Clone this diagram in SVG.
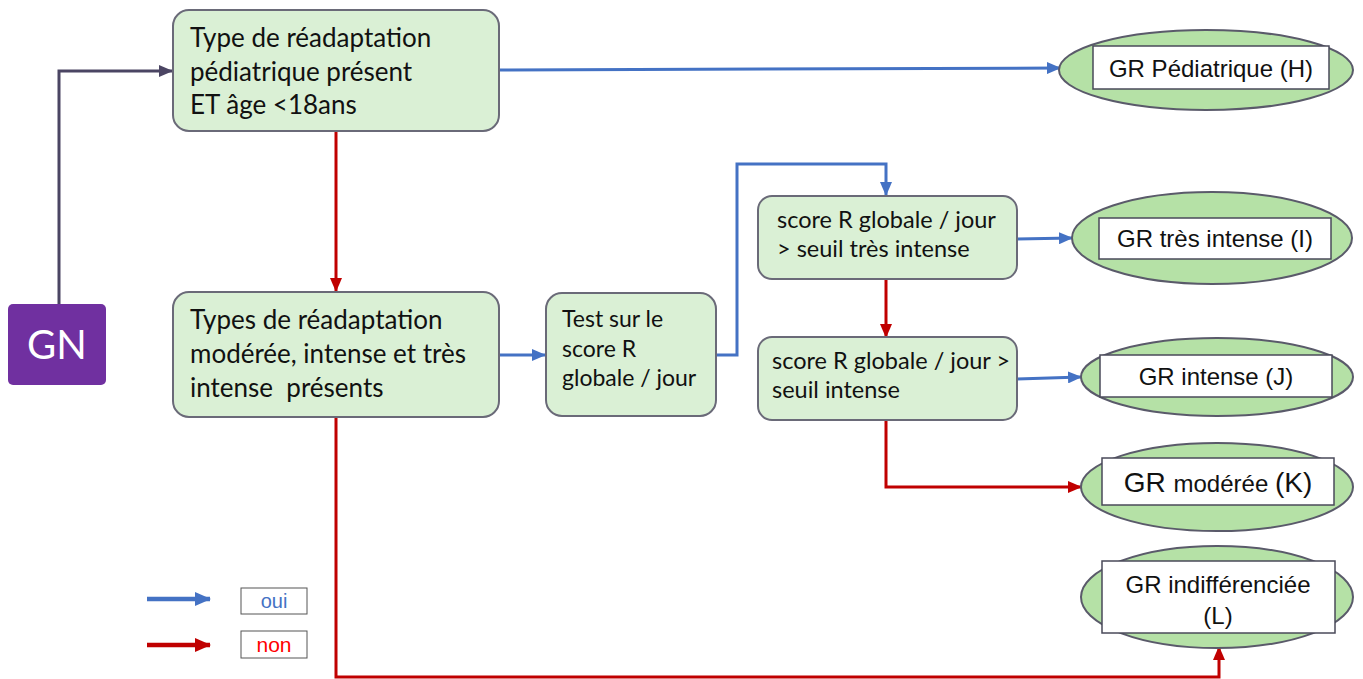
<svg xmlns="http://www.w3.org/2000/svg" width="1363" height="679" viewBox="0 0 1363 679">
<style>
.box{fill:#DAF0D5;stroke:#6A6A78;stroke-width:2}
.ell{fill:#B5E1A6;stroke:#5A5A6A;stroke-width:2}
.lab{fill:#fff;stroke:#4A4A5A;stroke-width:1.5}
.t{font-family:Lato,"Liberation Sans",sans-serif;fill:#111;white-space:pre}
.a{font-family:"Liberation Sans",Arial,sans-serif;fill:#111;text-anchor:middle}
.blue{fill:none;stroke:#4472C4;stroke-width:3}
.red{fill:none;stroke:#C00000;stroke-width:3}
.dark{fill:none;stroke:#4B4563;stroke-width:3}
.leg{stroke-width:4.5}
</style>
<defs>
<marker id="ab" markerUnits="userSpaceOnUse" markerWidth="14" markerHeight="12" refX="13" refY="6" orient="auto"><path d="M0,0 L14,6 L0,12 z" fill="#4472C4"/></marker>
<marker id="ar" markerUnits="userSpaceOnUse" markerWidth="14" markerHeight="12" refX="13" refY="6" orient="auto"><path d="M0,0 L14,6 L0,12 z" fill="#C00000"/></marker>
<marker id="ad" markerUnits="userSpaceOnUse" markerWidth="14" markerHeight="12" refX="13" refY="6" orient="auto"><path d="M0,0 L14,6 L0,12 z" fill="#4B4563"/></marker>
<marker id="lb" markerUnits="userSpaceOnUse" markerWidth="16" markerHeight="14" refX="15" refY="7" orient="auto"><path d="M0,0 L16,7 L0,14 z" fill="#4472C4"/></marker>
<marker id="lr" markerUnits="userSpaceOnUse" markerWidth="16" markerHeight="14" refX="15" refY="7" orient="auto"><path d="M0,0 L16,7 L0,14 z" fill="#C00000"/></marker>
</defs>
<g id="connectors">
<path class="dark" d="M59,304 V71 H172" marker-end="url(#ad)"/>
<path class="blue" d="M499,70 L1060,68" marker-end="url(#ab)"/>
<path class="red" d="M336,131 V291" marker-end="url(#ar)"/>
<path class="blue" d="M499,355 H545" marker-end="url(#ab)"/>
<path class="blue" d="M716,355 H737 V164 H886 V195" marker-end="url(#ab)"/>
<path class="red" d="M886,279 V337" marker-end="url(#ar)"/>
<path class="blue" d="M1017,239 L1072,238" marker-end="url(#ab)"/>
<path class="blue" d="M1017,379 L1081,377" marker-end="url(#ab)"/>
<path class="red" d="M886,420 V487 H1081" marker-end="url(#ar)"/>
<path class="red" d="M336,417 V677 H1219 V647" marker-end="url(#ar)"/>
</g>
<g id="GN">
<rect x="8" y="304" width="98" height="81" rx="5" fill="#7030A0"/>
<text x="57" y="359" font-family="Lato,'Liberation Sans',sans-serif" font-size="40" fill="#fff" text-anchor="middle">GN</text>
</g>
<g id="n1">
<rect class="box" x="173" y="10" width="326" height="121" rx="16"/>
<text class="t" font-size="26"><tspan x="190" y="47">Type de réadaptation</tspan><tspan x="190" y="81">pédiatrique présent</tspan><tspan x="190" y="114">ET âge &lt;18ans</tspan></text>
</g>
<g id="n2">
<rect class="box" x="173" y="292" width="326" height="125" rx="16"/>
<text class="t" font-size="26"><tspan x="190" y="329">Types de réadaptation</tspan><tspan x="190" y="363">modérée, intense et très</tspan><tspan x="190" y="397">intense  présents</tspan></text>
</g>
<g id="n3">
<rect class="box" x="546" y="293" width="170" height="123" rx="16"/>
<text class="t" font-size="23"><tspan x="562" y="327">Test sur le</tspan><tspan x="562" y="357">score R</tspan><tspan x="562" y="386">globale / jour</tspan></text>
</g>
<g id="n4">
<rect class="box" x="758" y="196" width="259" height="83" rx="14"/>
<text class="t" font-size="23.5"><tspan x="777" y="228">score R globale / jour</tspan><tspan x="777" y="257">&gt; seuil très intense</tspan></text>
</g>
<g id="n5">
<rect class="box" x="758" y="337" width="259" height="83" rx="14"/>
<text class="t" font-size="23.5"><tspan x="772" y="369">score R globale / jour &gt;</tspan><tspan x="772" y="398">seuil intense</tspan></text>
</g>
<g id="H">
<ellipse class="ell" cx="1206" cy="70" rx="147" ry="40"/>
<rect class="lab" x="1093" y="46" width="236" height="43"/>
<text class="a" x="1211" y="77" font-size="24">GR Pédiatrique (H)</text>
</g>
<g id="I">
<ellipse class="ell" cx="1212" cy="238" rx="140" ry="46"/>
<rect class="lab" x="1099" y="218" width="232" height="41"/>
<text class="a" x="1215" y="247" font-size="24">GR très intense (I)</text>
</g>
<g id="J">
<ellipse class="ell" cx="1217" cy="377" rx="136" ry="39"/>
<rect class="lab" x="1100" y="355" width="232" height="42"/>
<text class="a" x="1216" y="385" font-size="24">GR intense (J)</text>
</g>
<g id="K">
<ellipse class="ell" cx="1217" cy="487" rx="136" ry="44"/>
<rect class="lab" x="1102" y="458" width="232" height="47"/>
<text class="a" x="1218" y="492"><tspan font-size="28">GR </tspan><tspan font-size="24">modérée </tspan><tspan font-size="28">(K)</tspan></text>
</g>
<g id="L">
<ellipse class="ell" cx="1217" cy="597" rx="136" ry="51"/>
<rect class="lab" x="1102" y="561" width="233" height="72"/>
<text class="a" font-size="24"><tspan x="1218" y="593">GR indifférenciée</tspan><tspan x="1218" y="624">(L)</tspan></text>
</g>
<g id="legend">
<path class="blue leg" d="M147,599 H210" marker-end="url(#lb)"/>
<path class="red leg" d="M147,645 H210" marker-end="url(#lr)"/>
<rect x="241" y="588" width="66" height="26" fill="#fff" stroke="#555" stroke-width="1"/>
<text x="274" y="608" font-family="'Liberation Sans',Arial,sans-serif" font-size="20" fill="#4472C4" text-anchor="middle">oui</text>
<rect x="241" y="631" width="66" height="27" fill="#fff" stroke="#555" stroke-width="1"/>
<text x="274" y="652" font-family="'Liberation Sans',Arial,sans-serif" font-size="21" fill="#FF0000" text-anchor="middle">non</text>
</g>
</svg>
